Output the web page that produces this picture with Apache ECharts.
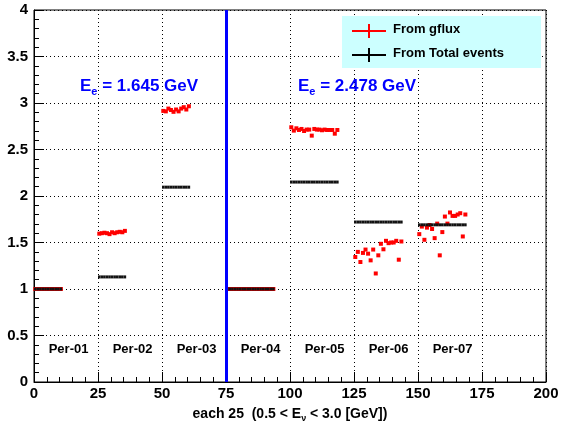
<!DOCTYPE html>
<html>
<head>
<meta charset="utf-8">
<script src="https://cdn.jsdelivr.net/npm/echarts@6/dist/echarts.min.js"></script>
<style>
  html, body { margin: 0; padding: 0; background: #fff; }
  #chart { width: 564px; height: 423px; }
</style>
</head>
<body>
<div id="chart"></div>
<script>
// Periods: first bin, bin count, label, label position
const periods = ['Per-01', 'Per-02', 'Per-03', 'Per-04', 'Per-05', 'Per-06', 'Per-07'];
const periodStart = [0, 25, 50, 75, 100, 125, 150];
const periodBins = [11, 11, 11, 19, 19, 19, 19];
const periodLabelX = [13.5, 38.5, 63.5, 88.5, 113.5, 138.5, 163.5];
const periodLabelY = 0.35;

// Ratio per bin from gflux
const gfluxPer01 = [1, 1, 1, 1, 1, 1, 1, 1, 1, 1, 1];
const gfluxPer02 = [1.595, 1.600, 1.605, 1.600, 1.590, 1.610, 1.600, 1.610, 1.615, 1.610, 1.625];
const gfluxPer03 = [2.915, 2.910, 2.940, 2.925, 2.905, 2.930, 2.910, 2.940, 2.955, 2.930, 2.965];
const gfluxPer04 = [1, 1, 1, 1, 1, 1, 1, 1, 1, 1, 1, 1, 1, 1, 1, 1, 1, 1, 1];
const gfluxPer05 = [2.739, 2.703, 2.728, 2.710, 2.721, 2.699, 2.714, 2.714, 2.649, 2.721,
                    2.714, 2.714, 2.707, 2.714, 2.710, 2.710, 2.710, 2.670, 2.710];
const gfluxPer06 = [1.344, 1.399, 1.290, 1.388, 1.424, 1.380, 1.308, 1.424, 1.167, 1.362,
                    1.486, 1.427, 1.518, 1.493, 1.500, 1.500, 1.518, 1.315, 1.511];
const gfluxPer07 = [1.590, 1.671, 1.529, 1.660, 1.688, 1.645, 1.547, 1.703, 1.362, 1.612,
                    1.779, 1.703, 1.823, 1.786, 1.786, 1.801, 1.815, 1.565, 1.801];

// Ratio from total events (one value per period)
const totalEvents = [1.0, 1.13, 2.095, 1.0, 2.15, 1.72, 1.69];

// Axis ticks
const xTicks = { min: 0, max: 200, step: 25 };
const yTicks = { min: 0, max: 4, step: 0.5 };

const gfluxAll = [gfluxPer01, gfluxPer02, gfluxPer03, gfluxPer04, gfluxPer05, gfluxPer06, gfluxPer07];

const gfluxPoints = [];
gfluxAll.forEach((vals, p) => {
  vals.forEach((v, i) => gfluxPoints.push([periodStart[p] + i + 0.5, v]));
});

const totalBins = [];
periods.forEach((name, p) => {
  for (let i = 0; i < periodBins[p]; i++) {
    totalBins.push([periodStart[p] + i, totalEvents[p]]);
  }
});

const periodLabelData = periods.map((n, i) => ({ name: n, value: [periodLabelX[i], periodLabelY] }));

const chart = echarts.init(document.getElementById('chart'), null, { renderer: 'canvas' });
const font = 'Liberation Sans, Arial, Helvetica, sans-serif';

chart.setOption({
  animation: false,
  backgroundColor: '#ffffff',
  grid: {
    left: 34, right: 18, top: 10, bottom: 41,
    containLabel: false, outerBoundsMode: 'none',
    show: true, borderColor: '#000', borderWidth: 1, backgroundColor: 'transparent'
  },
  xAxis: {
    type: 'value', min: xTicks.min, max: xTicks.max, interval: xTicks.step,
    axisLine: { show: true, lineStyle: { color: '#000', width: 1 } },
    axisTick: { show: true, inside: true, length: 10, lineStyle: { color: '#000' } },
    minorTick: { show: true, splitNumber: 5, length: 5, lineStyle: { color: '#000' } },
    splitLine: { show: true, lineStyle: { color: '#000', type: [1, 3], width: 1 } },
    axisLabel: { color: '#000', fontFamily: font, fontWeight: 'bold', fontSize: 15, margin: 4 },
    name: 'each 25  (0.5 < E{sub|ν} < 3.0 [GeV])',
    nameLocation: 'middle', nameGap: 24,
    nameTextStyle: {
      color: '#000', fontFamily: font, fontWeight: 'bold', fontSize: 14,
      rich: { sub: { fontFamily: font, fontWeight: 'bold', fontSize: 9, verticalAlign: 'bottom', padding: [8, 0, 0, 0] } }
    }
  },
  yAxis: {
    type: 'value', min: yTicks.min, max: yTicks.max, interval: yTicks.step,
    axisLine: { show: true, lineStyle: { color: '#000', width: 1 } },
    axisTick: { show: true, inside: true, length: 10, lineStyle: { color: '#000' } },
    minorTick: { show: true, splitNumber: 5, length: 5, lineStyle: { color: '#000' } },
    splitLine: { show: true, lineStyle: { color: '#000', type: [1, 3], width: 1 } },
    axisLabel: { color: '#000', fontFamily: font, fontWeight: 'bold', fontSize: 15, margin: 6 }
  },
  series: [
    {
      name: 'From gflux',
      type: 'scatter',
      symbol: 'rect',
      symbolSize: 4,
      itemStyle: { color: '#ff0000', opacity: 1 },
      data: gfluxPoints,
      z: 3,
      markLine: {
        silent: true, symbol: 'none',
        label: { show: false },
        lineStyle: { color: '#0000ff', width: 3, type: 'solid' },
        data: [{ xAxis: 75 }]
      }
    },
    {
      name: 'From Total events',
      type: 'custom',
      data: totalBins,
      z: 4,
      renderItem: function (params, api) {
        const x0 = api.value(0);
        const v = api.value(1);
        const a = api.coord([x0, v]);
        const b = api.coord([x0 + 1, v]);
        return {
          type: 'line',
          shape: { x1: a[0], y1: a[1], x2: b[0], y2: b[1] },
          style: { stroke: '#111', lineWidth: 3 }
        };
      }
    },
    {
      name: 'period labels',
      type: 'scatter',
      symbolSize: 0,
      silent: true,
      itemStyle: { opacity: 1 },
      data: periodLabelData,
      label: {
        show: true, position: 'inside', formatter: '{b}', opacity: 1,
        color: '#000', fontFamily: font, fontWeight: 'bold', fontSize: 13
      }
    }
  ],
  graphic: [
    // legend box
    { type: 'rect', left: 342, top: 16, shape: { width: 199, height: 52 }, style: { fill: '#ccffff' }, z: 10 },
    { type: 'line', shape: { x1: 352, y1: 31, x2: 386, y2: 31 }, style: { stroke: '#ff0000', lineWidth: 2 }, z: 11 },
    { type: 'line', shape: { x1: 369, y1: 24, x2: 369, y2: 38 }, style: { stroke: '#ff0000', lineWidth: 2 }, z: 11 },
    { type: 'text', left: 393, top: 23, style: { text: 'From gflux', fill: '#000', font: 'bold 13px ' + font }, z: 11 },
    { type: 'line', shape: { x1: 352, y1: 55, x2: 386, y2: 55 }, style: { stroke: '#000', lineWidth: 2 }, z: 11 },
    { type: 'line', shape: { x1: 369, y1: 48, x2: 369, y2: 62 }, style: { stroke: '#000', lineWidth: 2 }, z: 11 },
    { type: 'text', left: 393, top: 47, style: { text: 'From Total events', fill: '#000', font: 'bold 13px ' + font }, z: 11 },
    // beam energy annotations
    {
      type: 'text', left: 80, top: 78, z: 11,
      style: {
        text: 'E{s|e} = 1.645 GeV', fill: '#0000ff', font: 'bold 17px ' + font,
        rich: { s: { fill: '#0000ff', font: 'bold 11px ' + font, padding: [10, 0, 0, 0] } }
      }
    },
    {
      type: 'text', left: 298, top: 78, z: 11,
      style: {
        text: 'E{s|e} = 2.478 GeV', fill: '#0000ff', font: 'bold 17px ' + font,
        rich: { s: { fill: '#0000ff', font: 'bold 11px ' + font, padding: [10, 0, 0, 0] } }
      }
    }
  ]
});
</script>
</body>
</html>
